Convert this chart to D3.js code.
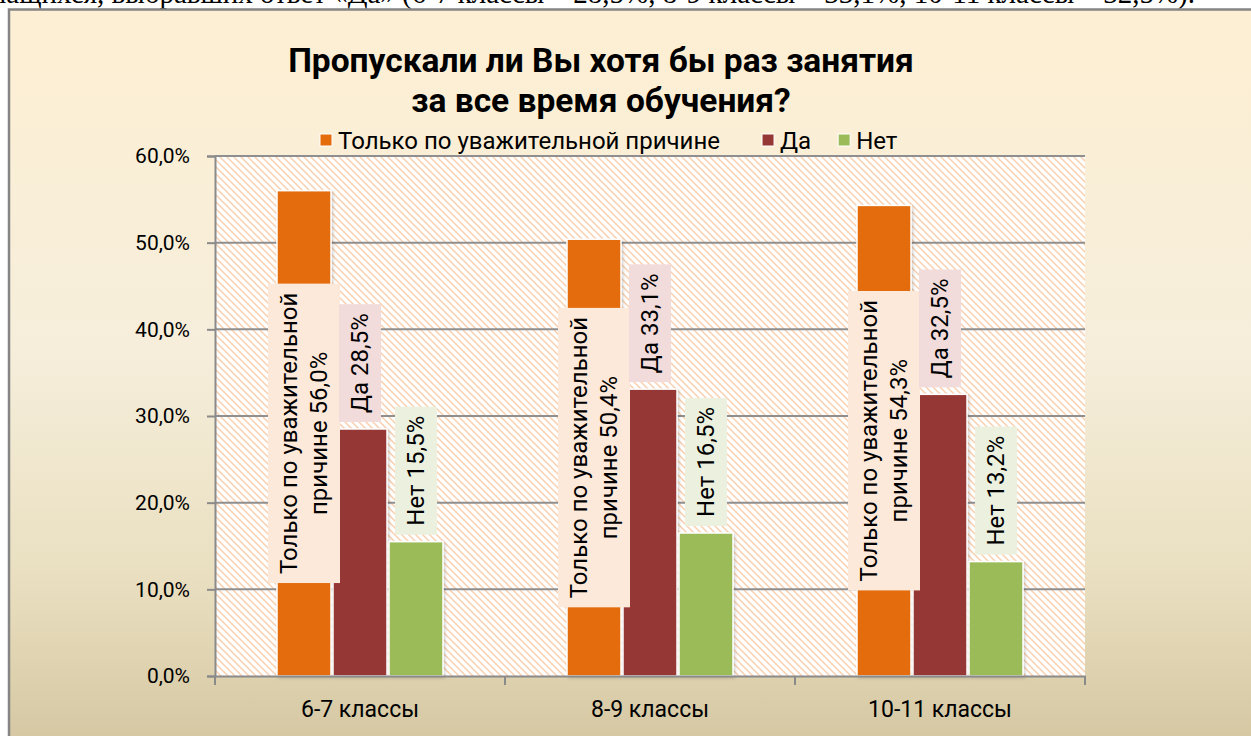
<!DOCTYPE html>
<html><head><meta charset="utf-8">
<script src="https://cdn.jsdelivr.net/npm/d3@7"></script>
<style>
html,body{margin:0;padding:0;background:#fff;}
svg{display:block;}
</style></head>
<body>
<svg id="chart" width="1251" height="736"></svg>
<script>
const categories = ["6-7 классы", "8-9 классы", "10-11 классы"];
const seriesNames = ["Только по уважительной причине", "Да", "Нет"];
const validReason = [56.0, 50.4, 54.3];
const yesValues = [28.5, 33.1, 32.5];
const noValues = [15.5, 16.5, 13.2];
const yTicks = [0, 10, 20, 30, 40, 50, 60];
const titleLines = ["Пропускали ли Вы хотя бы раз занятия", "за все время обучения?"];
const docLine = "Доля учащихся, выбравших ответ «Да» (6-7 классы – 28,5%, 8-9 классы – 33,1%, 10-11 классы – 32,5%).";

const seriesValues = [validReason, yesValues, noValues];
const colors = ["#E46C0A", "#953735", "#9BBB59"];
const labelFills = ["#FDE9D9", "#F2DCDB", "#EBF1DE"];
const FONT = "Roboto, 'Noto Sans', sans-serif";
const fmt = v => d3.format(".1f")(v).replace(".", ",") + "%";

const svg = d3.select("#chart");
const defs = svg.append("defs");

const grad = defs.append("linearGradient").attr("id", "bg").attr("x1", 0).attr("y1", 0).attr("x2", 0).attr("y2", 1);
[[0, "#FDEFD3"], [0.45, "#F6EEDB"], [0.75, "#E9DFC0"], [1, "#D2C39D"]].forEach(([o, c]) =>
  grad.append("stop").attr("offset", o).attr("stop-color", c));

const pat = defs.append("pattern").attr("id", "hatch").attr("patternUnits", "userSpaceOnUse")
  .attr("width", 7).attr("height", 7);
pat.append("rect").attr("width", 7).attr("height", 7).attr("fill", "#ffffff");
pat.append("path").attr("d", "M-1,-1 L8,8 M-1,6 L1,8 M6,-1 L8,1")
  .attr("stroke", "#F9D0B0").attr("stroke-width", 1.5);

const shadow = defs.append("filter").attr("id", "shadow").attr("x", "-20%").attr("y", "-5%").attr("width", "140%").attr("height", "115%");
shadow.append("feDropShadow").attr("dx", 1.5).attr("dy", 1.5).attr("stdDeviation", 1.5)
  .attr("flood-color", "#000").attr("flood-opacity", 0.18);

// document text line cut off at top
svg.append("text").attr("x", 1195).attr("y", 3).attr("text-anchor", "end")
  .attr("font-family", "'Liberation Serif', serif").attr("font-size", 29).attr("fill", "#000")
  .text(docLine);

// chart area
svg.append("rect").attr("x", 9).attr("y", 9.5).attr("width", 1300).attr("height", 760)
  .attr("fill", "url(#bg)").attr("stroke", "#858585").attr("stroke-width", 2.5);

const plot = {left: 215, right: 1085, top: 156, bottom: 676};
const x = d3.scaleBand().domain(categories).range([plot.left, plot.right]).padding(0);
const xSub = d3.scaleBand().domain(seriesNames).range([62, 230]).padding(0);
const y = d3.scaleLinear().domain([0, 60]).range([plot.bottom, plot.top]);

svg.append("rect").attr("x", plot.left).attr("y", plot.top)
  .attr("width", plot.right - plot.left).attr("height", plot.bottom - plot.top)
  .attr("fill", "url(#hatch)");

// gridlines
svg.append("g").selectAll("line").data(yTicks.filter(t => t > 0)).join("line")
  .attr("x1", plot.left).attr("x2", plot.right)
  .attr("y1", d => y(d)).attr("y2", d => y(d))
  .attr("stroke", "#8F8F8F").attr("stroke-width", 2);

// y axis
const yAxis = svg.append("g").attr("transform", `translate(${plot.left},0)`)
  .call(d3.axisLeft(y).tickValues(yTicks).tickSize(8).tickPadding(17).tickFormat(fmt));
yAxis.select(".domain").attr("stroke", "#8A8A8A").attr("stroke-width", 2);
yAxis.selectAll(".tick line").attr("stroke", "#8A8A8A").attr("stroke-width", 2);
yAxis.selectAll("text").attr("font-family", FONT).attr("font-size", 21).attr("fill", "#000");

// bars
const groups = svg.append("g").selectAll("g").data(categories).join("g")
  .attr("transform", d => `translate(${x(d)},0)`);
groups.each(function (cat, ci) {
  const g = d3.select(this);
  seriesNames.forEach((s, si) => {
    const v = seriesValues[si][ci];
    g.append("rect").attr("x", xSub(s)).attr("y", y(v))
      .attr("width", xSub.bandwidth() - 2).attr("height", y(0) - y(v))
      .attr("fill", colors[si]).attr("stroke", "#ffffff").attr("stroke-width", 1.5)
      .attr("filter", "url(#shadow)");
  });
});

// x axis
const xAxis = svg.append("g").attr("transform", `translate(0,${plot.bottom})`)
  .call(d3.axisBottom(x).tickSize(0).tickPadding(25));
xAxis.select(".domain").attr("stroke", "#8A8A8A").attr("stroke-width", 2);
xAxis.selectAll("text").attr("font-family", FONT).attr("font-size", 23).attr("fill", "#000");
svg.append("g").selectAll("line").data(categories.concat([null])).join("line")
  .attr("x1", (d, i) => i < categories.length ? x(d) : plot.right)
  .attr("x2", (d, i) => i < categories.length ? x(d) : plot.right)
  .attr("y1", plot.bottom).attr("y2", plot.bottom + 9)
  .attr("stroke", "#8A8A8A").attr("stroke-width", 2);

// data labels
const LFS = 24, LH = 30, PADX = 9, PADY = 6, GAP = 7;
categories.forEach((cat, ci) => {
  seriesNames.forEach((s, si) => {
    const v = seriesValues[si][ci];
    const lines = si === 0 ? ["Только по уважительной", "причине " + fmt(v)] : [s + " " + fmt(v)];
    const cx = x(cat) + xSub(s) + (xSub.bandwidth() - 2) / 2;
    const g = svg.append("g");
    const t = g.append("text").attr("font-family", FONT).attr("font-size", LFS).attr("fill", "#000")
      .attr("text-anchor", "middle");
    lines.forEach((ln, li) => {
      t.append("tspan").attr("x", 0).attr("y", (li - (lines.length - 1) / 2) * LH)
        .attr("dominant-baseline", "central").text(ln);
    });
    const len = d3.max(t.selectAll("tspan").nodes(), n => n.getComputedTextLength());
    const bw = len + 2 * PADX, bh = lines.length * LH + 2 * PADY;
    g.insert("rect", "text").attr("x", -bw / 2).attr("y", -bh / 2).attr("width", bw).attr("height", bh)
      .attr("fill", labelFills[si]);
    const cy = si === 0 ? (y(v) + y(0)) / 2 : y(v) - GAP - bw / 2;
    g.attr("transform", `translate(${cx},${cy}) rotate(-90)`);
  });
});

// title
svg.append("g").selectAll("text").data(titleLines).join("text")
  .attr("x", 601).attr("y", (d, i) => 72 + i * 40).attr("text-anchor", "middle")
  .attr("font-family", FONT).attr("font-weight", "bold").attr("font-size", 33.5).attr("fill", "#000")
  .text(d => d);

// legend
const legendGaps = [42, 27];
const legend = svg.append("g");
let lx = 0;
seriesNames.forEach((s, i) => {
  const item = legend.append("g").attr("transform", `translate(${lx},0)`);
  item.append("rect").attr("x", 0).attr("y", -7).attr("width", 12).attr("height", 12)
    .attr("fill", colors[i]).attr("stroke", "#fff").attr("stroke-width", 1);
  const tx = item.append("text").attr("x", 18).attr("y", 0).attr("dominant-baseline", "central")
    .attr("font-family", FONT).attr("font-size", 24).attr("fill", "#000").text(s);
  lx += 18 + tx.node().getComputedTextLength() + (legendGaps[i] || 0);
});
legend.attr("transform", `translate(${320},141)`);
</script>
</body></html>
